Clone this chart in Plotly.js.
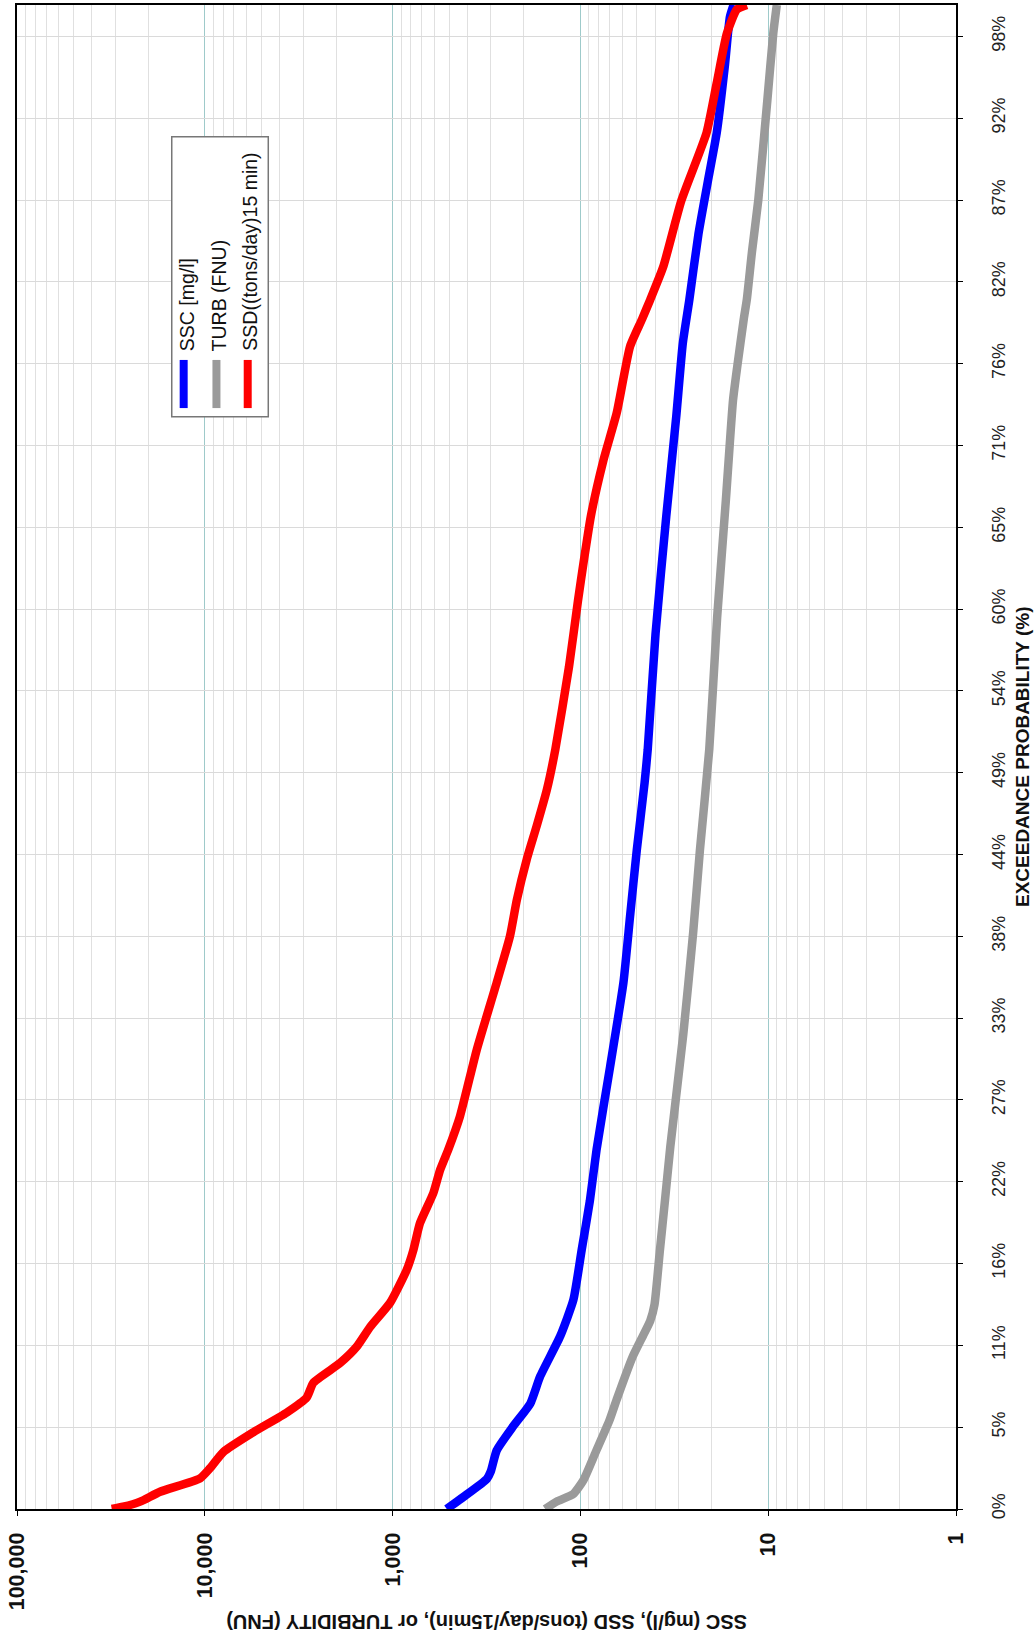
<!DOCTYPE html>
<html><head><meta charset="utf-8">
<script src="https://cdn.plot.ly/plotly-3.0.1.min.js"></script>
<style>html,body{margin:0;padding:0;background:#fff;} #chart{width:1034px;height:1637px;}</style>
</head><body><div id="chart"></div>
<script>
// Exceedance probability (%) and values for each series
const turbPct = [0, 0.49, 1.0, 1.9, 3.8, 5.9, 7.3, 10.1, 11.5, 12.5, 13.6, 17.1, 20.6, 24.1, 31.6, 38.3, 43.8, 50.5, 59.3, 67.1, 73.7, 76.0, 79.1, 80.4, 83.6, 87.0, 93.7, 98.1, 100];
const turbVal = [154, 134, 109, 96.5, 82.8, 70, 64, 52.8, 46.5, 42.5, 40.3, 37.8, 35.4, 33.2, 28.3, 25.1, 23.1, 20.6, 18.7, 16.8, 15.4, 14.6, 13.5, 13.0, 12.2, 11.3, 10.1, 9.4, 9.0];

const sscPct = [0, 0.8, 2.0, 2.5, 3.9, 5.5, 7.0, 8.8, 11.5, 13.9, 17.2, 20.5, 23.9, 29.4, 35.0, 39.4, 43.8, 48.3, 50.5, 58.2, 66.0, 72.6, 77.5, 80.4, 84.8, 88.5, 91.5, 96.0, 99.2, 100];
const sscVal = [515, 420, 315, 300, 279, 228, 185, 164, 128, 109, 98.5, 89, 82, 69.5, 59, 54.4, 50.1, 45.5, 43.8, 39.8, 34.9, 30.9, 28.5, 26.3, 23.5, 20.8, 18.8, 17.0, 16.0, 15.3];

const ssdPct = [0, 0.15, 0.49, 1.15, 2.04, 2.7, 3.8, 5.1, 6.4, 7.4, 8.4, 9.7, 10.8, 12.1, 13.7, 15.9, 17.2, 19.0, 21.0, 22.5, 23.9, 26.1, 30.5, 35.0, 38.1, 40.5, 43.2, 45.4, 47.8, 50.5, 56.0, 60.4, 63.0, 66.0, 69.7, 72.9, 77.3, 79.1, 80.4, 82.6, 87.0, 91.5, 94.8, 98.1, 99.7, 100];
const ssdVal = [31300, 27200, 22100, 17300, 10600, 9400, 7950, 5520, 3670, 2870, 2640, 1905, 1550, 1318, 1032, 841, 776, 715, 607, 560, 505, 438, 357, 279, 237, 218, 193, 171, 151, 136, 115, 103, 96, 88, 75.5, 64, 54.4, 47, 42.5, 36.2, 29.0, 21.3, 18.8, 16.6, 14.7, 13.0];

const seriesNames = ['SSC [mg/l]', 'TURB (FNU)', 'SSD((tons/day)15 min)'];

const valueTickVals = [100000, 10000, 1000, 100, 10, 1];
const valueTickText = ['100,000', '10,000', '1,000', '100', '10', '1'];
const pctTickVals = [0, 5.44, 10.88, 16.32, 21.76, 27.2, 32.63, 38.07, 43.51, 48.95, 54.39, 59.83, 65.27, 70.71, 76.15, 81.59, 87.03, 92.47, 97.91];
const pctTickText = ['0%', '5%', '11%', '16%', '22%', '27%', '33%', '38%', '44%', '49%', '54%', '60%', '65%', '71%', '76%', '82%', '87%', '92%', '98%'];

const F = 'Arial, "Liberation Sans", sans-serif';
const colors = {ssc: '#0000ff', turb: '#9a9a9a', ssd: '#ff0000'};

const lineStyle = (c) => ({color: c, width: 8.5, shape: 'spline', smoothing: 0.5});
const traces = [
  {x: turbVal, y: turbPct, name: seriesNames[1], mode: 'lines', line: lineStyle(colors.turb)},
  {x: sscVal, y: sscPct, name: seriesNames[0], mode: 'lines', line: lineStyle(colors.ssc)},
  {x: ssdVal, y: ssdPct, name: seriesNames[2], mode: 'lines', line: lineStyle(colors.ssd)}
];

// legend geometry in paper coords
const legBox = {x0: 0.1648, x1: 0.2676, y0: 0.7263, y1: 0.9124};
const legCols = [0.1775, 0.2124, 0.2457];
const legColors = [colors.ssc, colors.turb, colors.ssd];
const shapes = [{type: 'rect', xref: 'paper', yref: 'paper', x0: legBox.x0, x1: legBox.x1, y0: legBox.y0, y1: legBox.y1,
  line: {color: '#777', width: 1.5}, fillcolor: '#fff', layer: 'above'}];
const annotations = [];
legCols.forEach((cx, i) => {
  shapes.push({type: 'line', xref: 'paper', yref: 'paper', x0: cx, x1: cx, y0: 0.7320, y1: 0.7640,
    line: {color: legColors[i], width: 8}, layer: 'above'});
  annotations.push({xref: 'paper', yref: 'paper', x: cx + 0.003, y: 0.7685, xanchor: 'center', yanchor: 'bottom',
    text: seriesNames[i], textangle: -90, showarrow: false, font: {family: F, size: 19.5, color: '#111'}});
});
annotations.push({xref: 'paper', yref: 'paper', x: 0.5, y: -0.0755, xanchor: 'center', yanchor: 'middle',
  text: 'SSC (mg/l), SSD (tons/day/15min), or TURBIDITY (FNU)', textangle: 180, showarrow: false,
  font: {family: F, size: 20, weight: 'bold', color: '#111'}});
annotations.push({xref: 'paper', yref: 'paper', x: 1.0703, y: 0.5, xanchor: 'center', yanchor: 'middle',
  text: 'EXCEEDANCE PROBABILITY (%)', textangle: -90, showarrow: false,
  font: {family: F, size: 19, weight: 'bold', color: '#111'}});

const layout = {
  width: 1034, height: 1637,
  margin: {l: 17, r: 78, t: 5, b: 128, pad: 0},
  paper_bgcolor: '#fff', plot_bgcolor: '#fff',
  showlegend: false,
  xaxis: {
    type: 'log', range: [5, 0],
    tickmode: 'array', tickvals: valueTickVals, ticktext: valueTickText,
    tickangle: -90, tickfont: {family: F, size: 21.5, weight: 'bold', color: '#111'},
    ticks: 'outside', ticklen: 5, tickcolor: '#000', ticklabelstandoff: 8,
    showline: true, linecolor: '#000', linewidth: 2, mirror: true,
    showgrid: true, gridcolor: '#9ecaca', gridwidth: 1,
    minor: {dtick: 'D1', showgrid: true, gridcolor: '#e0e0e0', gridwidth: 1, ticks: ''},
    zeroline: false
  },
  yaxis: {
    range: [0, 100], side: 'right',
    tickmode: 'array', tickvals: pctTickVals, ticktext: pctTickText,
    tickangle: -90, tickfont: {family: F, size: 18, color: '#222'},
    ticks: 'outside', ticklen: 5, tickcolor: '#000', ticklabelstandoff: 20,
    showline: true, linecolor: '#000', linewidth: 2, mirror: true,
    showgrid: true, gridcolor: '#dadada', gridwidth: 1,
    zeroline: false
  },
  shapes: shapes,
  annotations: annotations
};

Plotly.newPlot('chart', traces, layout, {staticPlot: true, displayModeBar: false});
</script>
</body></html>
